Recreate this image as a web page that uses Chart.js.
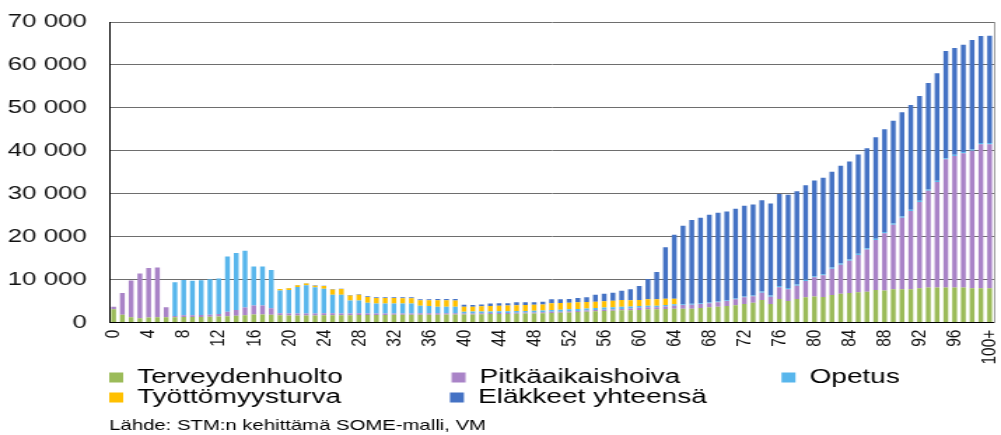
<!DOCTYPE html>
<html lang="fi">
<head>
    <meta charset="UTF-8">
    <title>Julkiset menot iän mukaan</title>
    <script src="https://cdn.jsdelivr.net/npm/chart.js"></script>
    <style>
        body {
            margin: 0;
            background: #fff;
        }
    </style>
</head>
<body>
    <!-- the original picture is stretched sideways, so the canvas is too (715 -> 1001) -->
    <canvas id="kaavio" width="715" height="435" style="width:1001px;height:435px"></canvas>

    <script>
        const ika = [
            '0', '1', '2', '3', '4', '5', '6', '7', '8', '9',
            '10', '11', '12', '13', '14', '15', '16', '17', '18', '19',
            '20', '21', '22', '23', '24', '25', '26', '27', '28', '29',
            '30', '31', '32', '33', '34', '35', '36', '37', '38', '39',
            '40', '41', '42', '43', '44', '45', '46', '47', '48', '49',
            '50', '51', '52', '53', '54', '55', '56', '57', '58', '59',
            '60', '61', '62', '63', '64', '65', '66', '67', '68', '69',
            '70', '71', '72', '73', '74', '75', '76', '77', '78', '79',
            '80', '81', '82', '83', '84', '85', '86', '87', '88', '89',
            '90', '91', '92', '93', '94', '95', '96', '97', '98', '99',
            '100+'
        ];

        const terveydenhuolto = [
            3100, 1800, 1260, 1030, 1200, 1260, 1260, 1260, 1300, 1300,
            1300, 1350, 1400, 1500, 1600, 1700, 1900, 1900, 1850, 1700,
            1650, 1650, 1650, 1650, 1700, 1700, 1700, 1700, 1750, 1750,
            1750, 1750, 1800, 1800, 1800, 1850, 1850, 1850, 1900, 1900,
            1860, 1900, 1950, 1980, 2000, 2020, 2060, 2100, 2130, 2170,
            2250, 2300, 2380, 2450, 2550, 2640, 2700, 2760, 2870, 2900,
            2950, 3100, 3100, 3180, 3250, 3250, 3250, 3400, 3560, 3720,
            3870, 4030, 4340, 4650, 5270, 4340, 5500, 5040, 5500, 5890,
            6050, 5970, 6430, 6740, 6900, 7050, 7210, 7600, 7450, 7760,
            7760, 7760, 7990, 8150, 8150, 8150, 8150, 8150, 8000, 8000,
            8000
        ];

        const pitkaaikaishoiva = [
            600, 5100, 8540, 10400, 11490, 11580, 2330, 300, 400, 400,
            450, 500, 600, 1000, 1360, 1800, 2070, 2070, 1510, 490,
            450, 450, 450, 450, 450, 450, 400, 400, 400, 350,
            350, 350, 300, 300, 300, 300, 300, 300, 250, 250,
            230, 230, 230, 230, 230, 230, 230, 230, 230, 230,
            250, 250, 250, 270, 280, 310, 310, 310, 310, 400,
            500, 500, 500, 550, 700, 850, 930, 930, 930, 1000,
            1160, 1400, 1550, 1470, 1710, 1700, 2720, 2710, 3100, 3800,
            4490, 5030, 6130, 6750, 7520, 8680, 9840, 11640, 13350, 15050,
            16680, 18240, 20100, 22580, 24600, 29870, 30650, 31270, 32040, 33520,
            33520
        ];

        const opetus = [
            0, 0, 0, 0, 0, 0, 0, 7860, 8230, 8040,
            8140, 8270, 8270, 12900, 13230, 13230, 9100, 9100, 8860, 5270,
            5500, 6190, 6580, 6120, 5760, 4360, 4410, 3020, 2970, 2550,
            2320, 2320, 2320, 2320, 2320, 1800, 1730, 1570, 1570, 1570,
            460, 430, 420, 400, 400, 390, 390, 390, 390, 390,
            460, 460, 460, 460, 460, 460, 480, 500, 540, 430,
            430, 350, 350, 380, 300, 200, 200, 200, 200, 200,
            200, 200, 200, 200, 280, 280, 280, 280, 280, 280,
            280, 280, 280, 280, 280, 280, 280, 280, 280, 280,
            280, 280, 280, 280, 280, 280, 280, 280, 280, 280,
            280
        ];

        const tyottomyysturva = [
            0, 0, 0, 0, 0, 0, 0, 0, 0, 0,
            0, 0, 0, 0, 0, 0, 0, 0, 0, 390,
            410, 420, 420, 380, 610, 1220, 1300, 1190, 1350, 1320,
            1320, 1300, 1290, 1270, 1270, 1260, 1300, 1500, 1480, 1400,
            1160, 1150, 1180, 1250, 1300, 1320, 1350, 1370, 1380, 1400,
            1550, 1550, 1550, 1550, 1500, 1470, 1500, 1520, 1550, 1450,
            1390, 1480, 1480, 1470, 1330, 0, 0, 0, 0, 0,
            0, 0, 0, 0, 0, 0, 0, 0, 0, 0,
            0, 0, 0, 0, 0, 0, 0, 0, 0, 0,
            0, 0, 0, 0, 0, 0, 0, 0, 0, 0,
            0
        ];

        const elakkeet = [
            0, 0, 0, 0, 0, 0, 0, 0, 0, 0,
            0, 0, 0, 0, 0, 0, 0, 0, 0, 0,
            50, 50, 50, 80, 80, 100, 100, 120, 120, 150,
            150, 170, 180, 200, 200, 220, 250, 280, 300, 380,
            460, 400, 410, 560, 570, 540, 700, 640, 600, 690,
            920, 870, 860, 1010, 1100, 1630, 1750, 1890, 2170, 2570,
            3260, 4720, 6350, 11940, 14880, 18250, 19490, 19880, 20420, 20660,
            20660, 20870, 21110, 21190, 21260, 21430, 21420, 21730, 21730, 22040,
            22270, 22430, 22270, 22730, 22810, 23130, 23280, 23630, 23930, 23940,
            24250, 24390, 24400, 24780, 25010, 24940, 24860, 25020, 25480, 24940,
            25010
        ];

        const yTicks = [0, 10000, 20000, 30000, 40000, 50000, 60000, 70000];

        // trailing spaces so that the legend falls into columns like in Excel
        const legendPad = [14, 13, 0, 14, 0];

        Chart.defaults.font.family = "'Liberation Sans', Arial, sans-serif";
        Chart.defaults.color = '#111';

        function sarja(label, data, color) {
            return {
                label: label,
                data: data,
                backgroundColor: color,
                borderWidth: 0,
                barPercentage: 0.55,
                categoryPercentage: 1
            };
        }

        const ctx = document.getElementById('kaavio').getContext('2d');
        new Chart(ctx, {
            type: 'bar',
            data: {
                labels: ika,
                datasets: [
                    sarja('Terveydenhuolto', terveydenhuolto, '#9BBB59'),
                    sarja('Pitkäaikaishoiva', pitkaaikaishoiva, '#A983C7'),
                    sarja('Opetus', opetus, '#58B6EC'),
                    sarja('Työttömyysturva', tyottomyysturva, '#FFC000'),
                    sarja('Eläkkeet yhteensä', elakkeet, '#4472C4')
                ]
            },
            options: {
                responsive: false,
                devicePixelRatio: 1,
                animation: false,
                layout: {
                    padding: { top: 22, left: 4, right: 5, bottom: 0 }
                },
                plugins: {
                    tooltip: { enabled: false },
                    legend: {
                        position: 'bottom',
                        align: 'start',
                        fullSize: false,
                        labels: {
                            boxWidth: 10,
                            boxHeight: 10,
                            padding: 0,
                            color: '#000',
                            font: { size: 20 },
                            generateLabels: (chart) => {
                                const items = Chart.defaults.plugins.legend.labels.generateLabels(chart);
                                items.forEach(it => {
                                    it.text = it.text + ' '.repeat(legendPad[it.datasetIndex]);
                                });
                                return items;
                            }
                        }
                    },
                    title: {
                        display: true,
                        text: 'Lähde: STM:n kehittämä SOME-malli, VM',
                        position: 'bottom',
                        align: 'start',
                        fullSize: false,
                        color: '#000',
                        font: { size: 14.5, weight: 'normal' },
                        padding: { top: 0, bottom: 0 }
                    }
                },
                scales: {
                    x: {
                        stacked: true,
                        grid: { display: false, drawTicks: false },
                        border: { display: true, color: '#000', width: 1 },
                        ticks: {
                            autoSkip: false,
                            minRotation: 90,
                            maxRotation: 90,
                            padding: 7,
                            color: '#111',
                            font: { size: 15.5 },
                            callback: (v, i) => (i % 4 === 0 ? ika[i] : null)
                        },
                        afterFit: (scale) => {
                            scale.height = 45;
                            scale.paddingLeft = 0;
                            scale.paddingRight = 0;
                        }
                    },
                    y: {
                        stacked: true,
                        min: 0,
                        max: 70000,
                        afterBuildTicks: (scale) => {
                            scale.ticks = yTicks.map(v => ({ value: v }));
                        },
                        grid: {
                            drawTicks: false,
                            color: (c) => (c.tick.value === 0 ? '#000' : '#6e6e6e'),
                            lineWidth: 1
                        },
                        border: { color: '#000', width: 1 },
                        ticks: {
                            padding: 16,
                            color: '#111',
                            font: { size: 18.5 },
                            callback: (v) => v.toString().replace(/\B(?=(\d{3})+(?!\d))/g, ' ')
                        },
                        afterFit: (scale) => {
                            scale.width = 74;
                            scale.paddingTop = 0;
                            scale.paddingBottom = 0;
                        }
                    },
                    y2: {
                        position: 'right',
                        grid: { drawOnChartArea: false, drawTicks: false },
                        border: { color: '#9a9a9a', width: 1 },
                        ticks: { display: false },
                        afterFit: (scale) => {
                            scale.width = 0;
                            scale.paddingTop = 0;
                            scale.paddingBottom = 0;
                        }
                    }
                }
            }
        });
    </script>
</body>
</html>
